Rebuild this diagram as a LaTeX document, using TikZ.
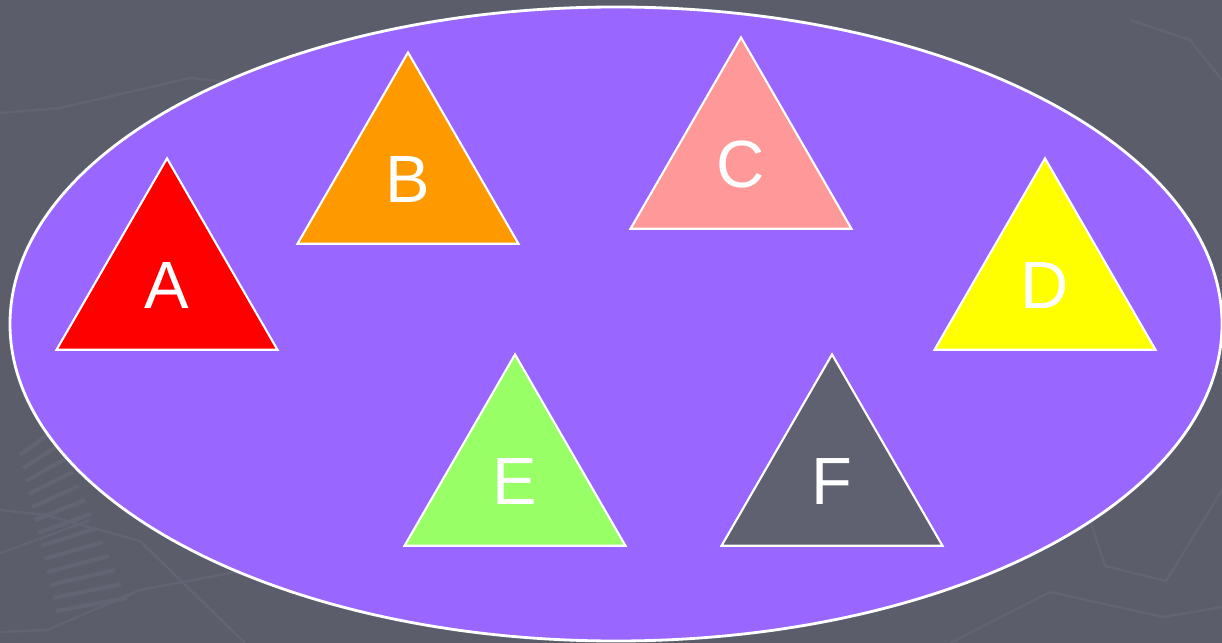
\documentclass[tikz,border=0pt]{standalone}
\usepackage{fontspec}
\setmainfont{Liberation Sans}
\usepackage{tikz}
\usetikzlibrary{shapes.geometric}

\definecolor{slate}{HTML}{5B5D6B}
\definecolor{slateline}{HTML}{626474}
\definecolor{violet}{HTML}{9966FF}
\definecolor{orangeB}{HTML}{FF9900}
\definecolor{pinkC}{HTML}{FF9999}
\definecolor{yellowD}{HTML}{FFFF00}
\definecolor{greenE}{HTML}{99FF66}
\definecolor{greyF}{HTML}{5F6170}

\begin{document}
\begin{tikzpicture}[x=0.01cm, y=-0.01cm,
	tri/.style={regular polygon, regular polygon sides=3, minimum size=2.55cm, inner sep=0pt,
		draw=white, line width=0.6pt, text=white, font=\fontsize{19}{22}\selectfont},
	faint/.style={slateline, line width=0.7pt}]
	\useasboundingbox (0,0) rectangle (1222,643);
	\fill[slate] (0,0) rectangle (1222,643);
	% faint background lines
	\draw[faint] (0,113) -- (60,108) -- (190,78) -- (225,82);
	\draw[faint] (0,510) -- (45,515) -- (140,541) -- (245,643);
	\draw[faint] (0,553) -- (15,548) -- (90,520);
	\draw[faint] (0,632) -- (47,630) -- (140,590) -- (300,560);
	\draw[faint] (1090,520) -- (1105,566) -- (1166,581) -- (1222,490);
	\draw[faint] (950,643) -- (1050,592) -- (1163,617) -- (1222,607);
	\draw[faint] (1222,80) -- (1190,40) -- (1130,20);
	\foreach \i in {0,...,12}
		\draw[faint, line width=1.2pt] ({20+3*\i},{455+13*\i}) -- ({55+6*\i},{430+14*\i});
	% the set
	\draw[white, line width=0.8pt, fill=violet] (616,324) ellipse [x radius=606, y radius=317];
	% the triangles
	\node[tri, fill=red] (A) at (167,286) {A};
	\node[tri, fill=orangeB] (B) at (408,180) {B};
	\node[tri, fill=pinkC] (C) at (741,165) {C};
	\node[tri, fill=yellowD] (D) at (1045,286) {D};
	\node[tri, fill=greenE] (E) at (515,482) {E};
	\node[tri, fill=greyF] (F) at (832,482) {F};
\end{tikzpicture}
\end{document}
